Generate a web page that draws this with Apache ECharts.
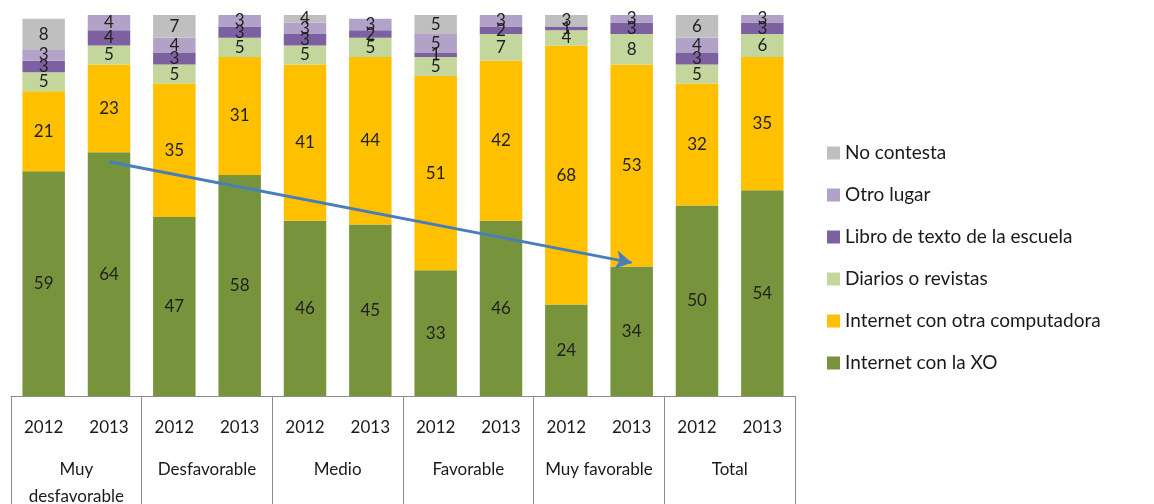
<!DOCTYPE html>
<html>
<head>
<meta charset="utf-8">
<script src="https://cdn.jsdelivr.net/npm/echarts@6/dist/echarts.min.js"></script>
<style>
  html, body { margin: 0; padding: 0; background: #fff; }
  #chart { width: 1154px; height: 504px; }
</style>
</head>
<body>
<div id="chart"></div>
<script>
// Year of each bar and the group each pair of bars belongs to
const years = ['2012', '2013', '2012', '2013', '2012', '2013', '2012', '2013', '2012', '2013', '2012', '2013'];
const groups = ['Muy\ndesfavorable', 'Desfavorable', 'Medio', 'Favorable', 'Muy favorable', 'Total'];

// Percentages per source (bottom to top of each stack)
const internetXO    = [59, 64, 47, 58, 46, 45, 33, 46, 24, 34, 50, 54];
const internetOtra  = [21, 23, 35, 31, 41, 44, 51, 42, 68, 53, 32, 35];
const diarios       = [5, 5, 5, 5, 5, 5, 5, 7, 4, 8, 5, 6];
const libroTexto    = [3, 4, 3, 3, 3, 2, 1, 2, 1, 3, 3, 3];
const otroLugar     = [3, 4, 4, 3, 3, 3, 5, 3, 0, 3, 4, 3];
const noContesta    = [8, 0, 7, 0, 4, 0, 5, 0, 3, 0, 6, 0];

// Trend arrow: from the 2013 "Muy desfavorable" XO share to the 2013 "Muy favorable" XO share
const trendFrom = [0.8, 61.5];
const trendTo   = [9.05, 35];

const font = 'Lato, "Open Sans", sans-serif';

function stack(name, data, color) {
  return {
    name: name,
    type: 'bar',
    stack: 'total',
    data: data,
    barCategoryGap: '35%',
    itemStyle: { color: color },
    label: {
      show: true,
      position: 'inside',
      color: '#1f1f1f',
      fontFamily: font,
      fontSize: 17,
      formatter: p => (p.value > 0 ? p.value : '')
    },
    emphasis: { disabled: true }
  };
}

const series = [
  stack('Internet con la XO', internetXO, '#77933c'),
  stack('Internet con otra computadora', internetOtra, '#ffc000'),
  stack('Diarios o revistas', diarios, '#c3d69b'),
  stack('Libro de texto de la escuela', libroTexto, '#7d60a0'),
  stack('Otro lugar', otroLugar, '#b3a2c7'),
  stack('No contesta', noContesta, '#bfbfbf')
];

series[0].markLine = {
  silent: true,
  symbol: ['none', 'arrow'],
  symbolSize: [14, 16],
  label: { show: false },
  lineStyle: { color: '#4a7ebb', width: 3, type: 'solid' },
  data: [[{ coord: trendFrom }, { coord: trendTo }]]
};

const chart = echarts.init(document.getElementById('chart'));
chart.setOption({
  animation: false,
  grid: { left: 11, right: 359, top: 15, bottom: 108, outerBoundsMode: 'none', containLabel: false },
  legend: {
    orient: 'vertical',
    left: 822,
    top: 138,
    itemWidth: 13,
    itemHeight: 13,
    itemGap: 22,
    icon: 'rect',
    textStyle: { fontFamily: font, fontSize: 19, color: '#1a1a1a', lineHeight: 20 },
    data: ['No contesta', 'Otro lugar', 'Libro de texto de la escuela',
           'Diarios o revistas', 'Internet con otra computadora', 'Internet con la XO']
  },
  xAxis: [
    {
      type: 'category',
      data: years,
      position: 'bottom',
      axisLine: { show: true, lineStyle: { color: '#8c8c8c', width: 1 } },
      axisTick: { show: false },
      axisLabel: { fontFamily: font, fontSize: 17, color: '#1a1a1a', margin: 23, interval: 0 }
    },
    {
      // group boxes: ticks at group boundaries run down to the bottom edge
      type: 'category',
      data: groups,
      position: 'bottom',
      axisLine: { show: false },
      axisTick: { show: true, length: 110, lineStyle: { color: '#8c8c8c' } },
      axisLabel: { fontFamily: font, fontSize: 17, color: '#1a1a1a', margin: 60, interval: 0, lineHeight: 27 }
    }
  ],
  yAxis: {
    type: 'value',
    min: 0,
    max: 100,
    show: false
  },
  series: series
});
</script>
</body>
</html>
